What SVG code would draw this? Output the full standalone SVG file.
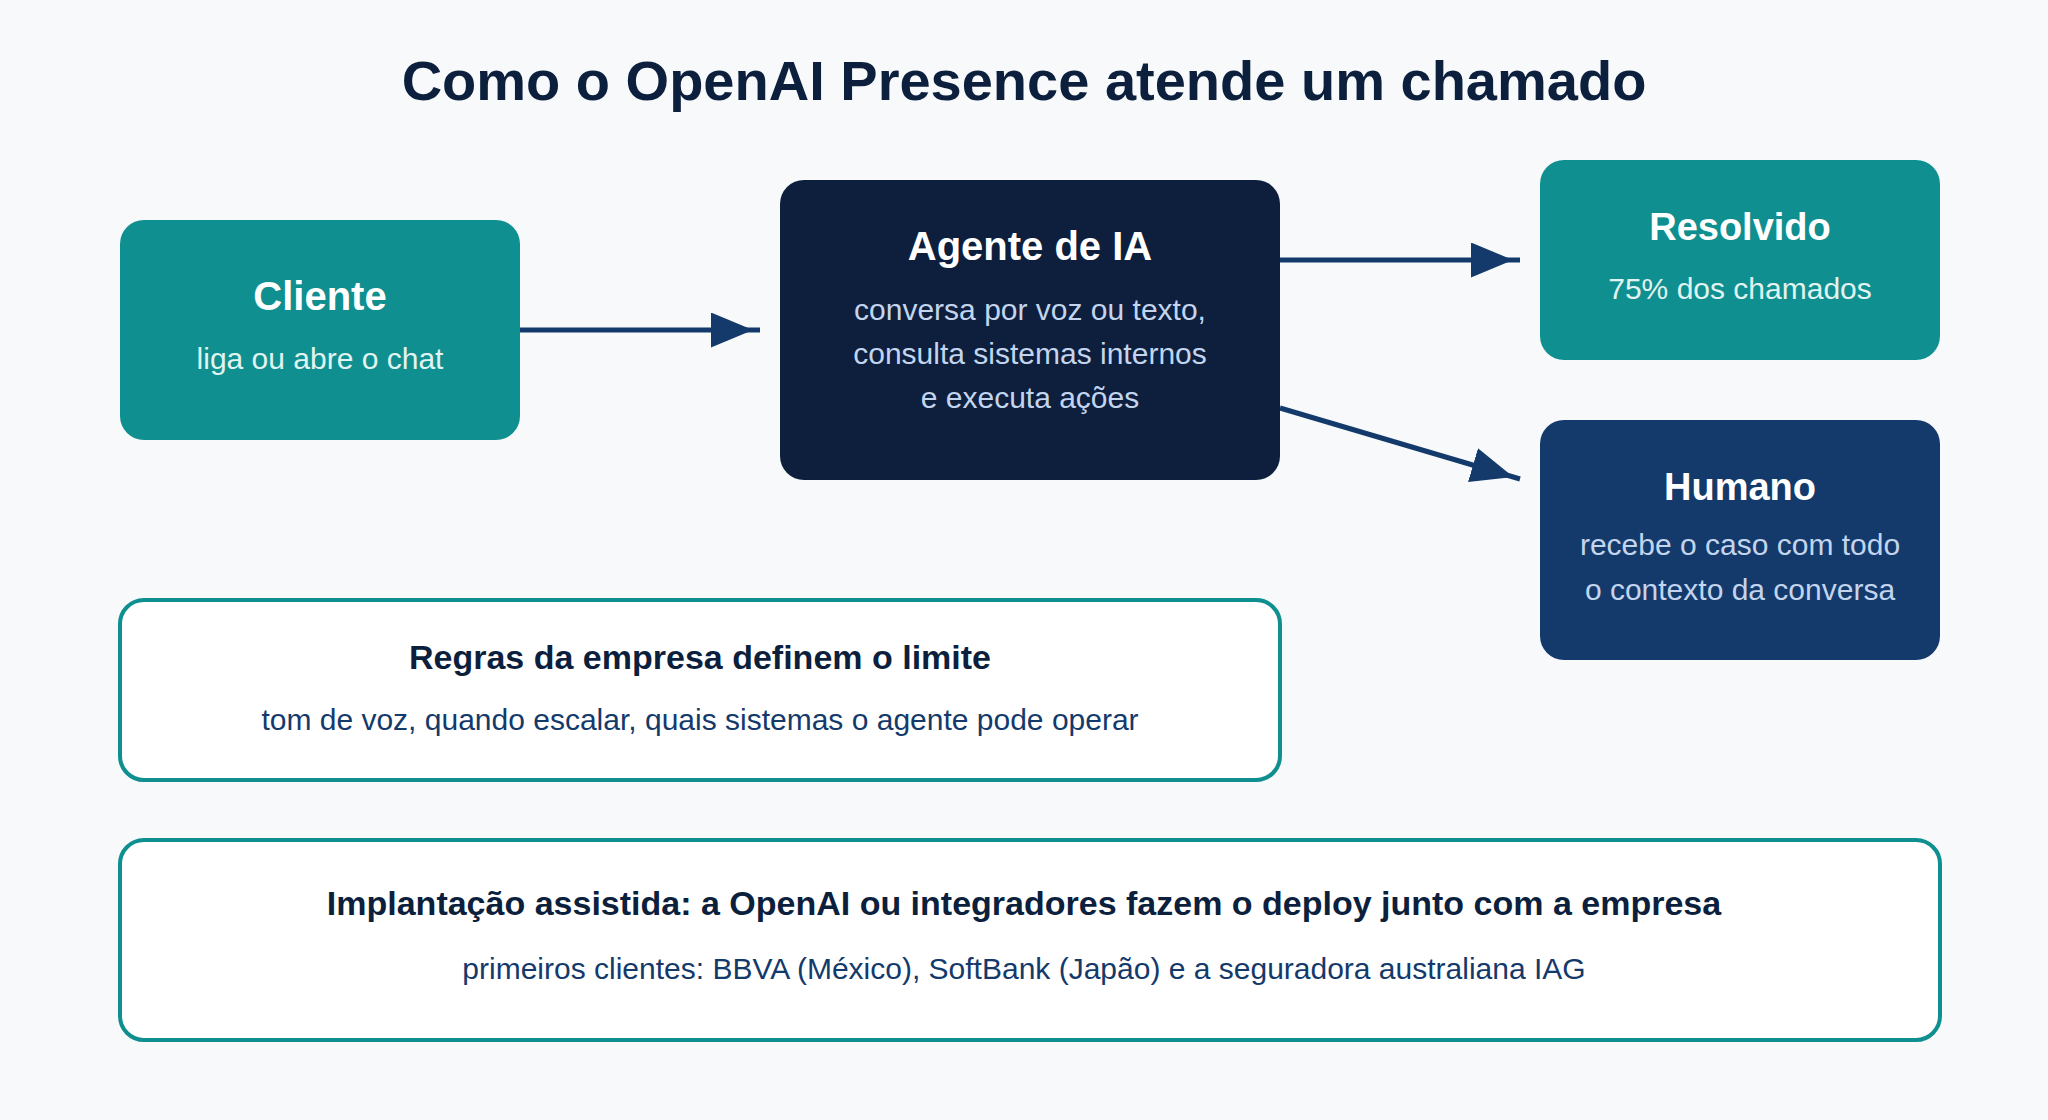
<svg xmlns="http://www.w3.org/2000/svg" width="2048" height="1120" viewBox="0 0 2048 1120">
<style>
text{font-family:"Liberation Sans",Arial,Helvetica,sans-serif;text-anchor:middle}
.ttl{font-size:56px;font-weight:bold;fill:#0c1f3d}
.h40{font-size:40px;font-weight:bold;fill:#ffffff}
.h38{font-size:38px;font-weight:bold;fill:#ffffff}
.s30t{font-size:30px;fill:#e0f4f1}
.s30d{font-size:30px;fill:#c3d5ee}
.hb{font-size:34px;font-weight:bold;fill:#0c1f3d}
.sb{font-size:30px;fill:#143a6b}
.teal{fill:#0f8f8f}
.navy{fill:#0d1f3c}
.blue{fill:#143a6b}
.outl{fill:#ffffff;stroke:#0f8f8f;stroke-width:4}
.conn{stroke:#143a6b;stroke-width:5;fill:none;marker-end:url(#ah)}
</style>
<defs>
<marker id="ah" viewBox="0 0 8.4 7" refX="9.8" refY="3.5" markerWidth="8.4" markerHeight="7" markerUnits="strokeWidth" orient="auto">
<path d="M0,0 L8.4,3.5 L0,7 z" fill="#143a6b"/>
</marker>
</defs>
<rect width="2048" height="1120" fill="#f7f9fb"/>
<text class="ttl" x="1024" y="100">Como o OpenAI Presence atende um chamado</text>
<g id="connectors">
<line class="conn" x1="520" y1="330" x2="760" y2="330"/>
<line class="conn" x1="1280" y1="260" x2="1520" y2="260"/>
<line class="conn" x1="1280" y1="408" x2="1520" y2="479"/>
</g>
<g id="cliente">
<rect class="teal" x="120" y="220" width="400" height="220" rx="24"/>
<text class="h40" x="320" y="310">Cliente</text>
<text class="s30t" x="320" y="369">liga ou abre o chat</text>
</g>
<g id="agente">
<rect class="navy" x="780" y="180" width="500" height="300" rx="24"/>
<text class="h40" x="1030" y="260">Agente de IA</text>
<text class="s30d" x="1030" y="320">conversa por voz ou texto,</text>
<text class="s30d" x="1030" y="364">consulta sistemas internos</text>
<text class="s30d" x="1030" y="408">e executa ações</text>
</g>
<g id="resolvido">
<rect class="teal" x="1540" y="160" width="400" height="200" rx="24"/>
<text class="h38" x="1740" y="240">Resolvido</text>
<text class="s30t" x="1740" y="299">75% dos chamados</text>
</g>
<g id="humano">
<rect class="blue" x="1540" y="420" width="400" height="240" rx="24"/>
<text class="h38" x="1740" y="500">Humano</text>
<text class="s30d" x="1740" y="555">recebe o caso com todo</text>
<text class="s30d" x="1740" y="600">o contexto da conversa</text>
</g>
<g id="regras">
<rect class="outl" x="120" y="600" width="1160" height="180" rx="24"/>
<text class="hb" x="700" y="669">Regras da empresa definem o limite</text>
<text class="sb" x="700" y="730">tom de voz, quando escalar, quais sistemas o agente pode operar</text>
</g>
<g id="implantacao">
<rect class="outl" x="120" y="840" width="1820" height="200" rx="24"/>
<text class="hb" x="1024" y="915">Implantação assistida: a OpenAI ou integradores fazem o deploy junto com a empresa</text>
<text class="sb" x="1024" y="979">primeiros clientes: BBVA (México), SoftBank (Japão) e a seguradora australiana IAG</text>
</g>
</svg>
